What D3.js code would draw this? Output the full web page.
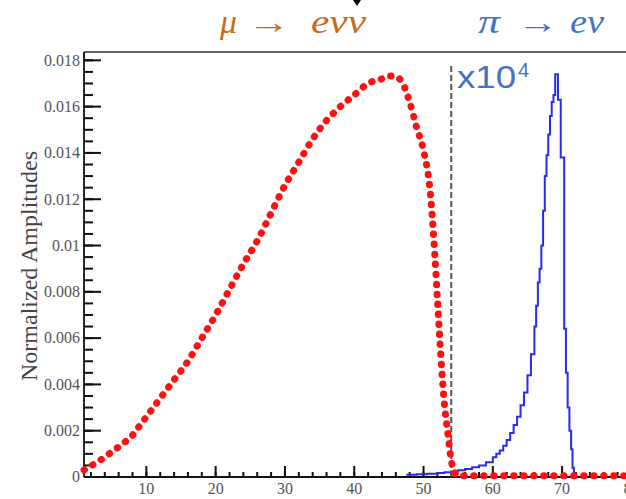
<!DOCTYPE html>
<html>
  <head>
    <meta charset="utf-8">
    <title>Michel spectrum vs pi -> e nu</title>
    <style>
      body {margin:0; background:#fff;}
      .lbl {font-family:"Liberation Serif", serif; font-size:16px; fill:#555;}
    </style>
    <script src="https://cdn.jsdelivr.net/npm/d3@7"></script>
  </head>
  <body>
    <svg id="chart"></svg>
    <script>
      // mu -> e nu nu (red dots), positron energy in MeV
      var muX = [1, 2, 3, 4, 5, 6, 7, 8, 9, 10, 12, 14, 16, 18, 20, 22, 24, 26, 28, 30,
                 32, 34, 36, 38, 40, 42, 44, 45, 46, 47, 48, 49, 50, 51, 51.5, 52, 52.5,
                 53, 53.5, 54, 54.5, 55, 60, 70, 80, 90, 100];
      var muY = [0.0003, 0.00048, 0.00066, 0.00086, 0.00108, 0.0013, 0.00153, 0.0018, 0.0022, 0.0026,
                 0.0034, 0.0042, 0.005, 0.006, 0.007, 0.0081, 0.0092, 0.0102, 0.0114, 0.0126,
                 0.0136, 0.0146, 0.0154, 0.016, 0.0165, 0.017, 0.0172, 0.01732, 0.0173, 0.017,
                 0.0162, 0.0151, 0.0141, 0.0122, 0.0102, 0.0077, 0.0052, 0.0032, 0.0019, 0.0007,
                 0.0002, 0.00005, 0.00005, 0.00005, 0.00005, 0.00005, 0.00005];

      // pi -> e nu (blue histogram, x10^4), bin edges and contents
      var piEdges = [47.5, 49, 50.5, 52, 53, 54, 55, 56, 57, 58, 59, 60, 60.5, 61, 61.5, 62,
                     62.5, 63, 63.5, 64, 64.5, 65, 65.5, 66, 66.25, 66.5, 66.75, 67, 67.25,
                     67.5, 67.75, 68, 68.25, 68.5, 68.75, 69, 69.4, 69.8, 70.3, 70.55, 70.8,
                     71.05, 71.3, 71.5, 71.7];
      var piCounts = [0.0001, 0.00012, 0.00014, 0.00017, 0.0002, 0.00024, 0.00029, 0.00035,
                      0.00042, 0.0005, 0.00064, 0.00085, 0.001, 0.00115, 0.00135, 0.0016,
                      0.0019, 0.00225, 0.0026, 0.0031, 0.00365, 0.0044, 0.0053, 0.0065,
                      0.0074, 0.0084, 0.009, 0.01, 0.0115, 0.013, 0.0139, 0.0148, 0.0156,
                      0.0162, 0.0165, 0.0174, 0.0163, 0.0138, 0.0064, 0.0045, 0.003, 0.002,
                      0.0012, 0.0004];

      var cutX = 54;          // dashed separator
      var cutTop = 0.0178;

      var xTicks = [10, 20, 30, 40, 50, 60, 70, 80];
      var xTickLabels = ["10", "20", "30", "40", "50", "60", "70", "80"];
      var yTicks = [0, 0.002, 0.004, 0.006, 0.008, 0.01, 0.012, 0.014, 0.016, 0.018];
      var yTickLabels = ["0", "0.002", "0.004", "0.006", "0.008", "0.01", "0.012", "0.014", "0.016", "0.018"];

      var svgWidth = 626, svgHeight = 499;
      var margin = {top: 52, left: 84};
      var plotWidth = 686, plotHeight = 425;

      var svg = d3.select("#chart").attr("width", svgWidth).attr("height", svgHeight);
      var g = svg.append("g").attr("transform", "translate(" + margin.left + "," + margin.top + ")");

      var x = d3.scaleLinear().domain([1, 100]).range([0, plotWidth]);
      var y = d3.scaleLinear().domain([0, 0.01836]).range([plotHeight, 0]);

      var yMinor = d3.range(0, 0.0181, 0.0005);
      var xMinor = d3.range(2, 101, 2);

      // frame
      g.append("line")
       .attr("x1", 0).attr("x2", plotWidth).attr("y1", 0).attr("y2", 0)
       .attr("stroke", "#666").attr("stroke-width", 2);
      g.append("line")
       .attr("x1", 0).attr("x2", 0).attr("y1", 0).attr("y2", plotHeight)
       .attr("stroke", "#111").attr("stroke-width", 1.8);
      g.append("line")
       .attr("x1", 0).attr("x2", plotWidth).attr("y1", plotHeight).attr("y2", plotHeight)
       .attr("stroke", "#111").attr("stroke-width", 1.8);

      // y ticks (inward), drawn as thin rects
      g.selectAll(".ymin").data(yMinor).enter().append("rect")
       .attr("x", 0).attr("width", 9).attr("height", 2)
       .attr("y", function(d) {return y(d) - 1;})
       .attr("fill", "#111");
      g.selectAll(".ymaj").data(yTicks).enter().append("rect")
       .attr("x", 0).attr("width", 17).attr("height", 2)
       .attr("y", function(d) {return y(d) - 1;})
       .attr("fill", "#111");
      g.selectAll(".ylab").data(yTicks).enter().append("text")
       .attr("class", "lbl")
       .attr("x", -4).attr("y", function(d) {return y(d);}).attr("dy", "0.33em")
       .attr("text-anchor", "end")
       .text(function(d, i) {return yTickLabels[i];});

      // x ticks (inward)
      g.selectAll(".xmin").data(xMinor).enter().append("rect")
       .attr("x", function(d) {return x(d) - 1;}).attr("width", 2)
       .attr("y", plotHeight - 5).attr("height", 5)
       .attr("fill", "#111");
      g.selectAll(".xmaj").data(xTicks).enter().append("rect")
       .attr("x", function(d) {return x(d) - 1;}).attr("width", 2)
       .attr("y", plotHeight - 11).attr("height", 11)
       .attr("fill", "#111");
      g.selectAll(".xlab").data(xTicks).enter().append("text")
       .attr("class", "lbl")
       .attr("x", function(d) {return x(d);}).attr("y", plotHeight + 17)
       .attr("text-anchor", "middle")
       .text(function(d, i) {return xTickLabels[i];});

      // y title
      svg.append("text")
         .attr("transform", "translate(37,266) rotate(-90)")
         .attr("text-anchor", "middle")
         .style("font-family", "Liberation Serif, serif")
         .style("font-size", "24px")
         .style("fill", "#444")
         .text("Normalized Amplitudes");

      // blue histogram
      var piPts = piCounts.map(function(d, i) {return [piEdges[i], d];});
      piPts.push([piEdges[piEdges.length - 1], 0]);
      g.append("path")
       .datum(piPts)
       .attr("d", d3.line().x(function(d) {return x(d[0]);}).y(function(d) {return y(d[1]);})
                          .curve(d3.curveStepAfter))
       .attr("fill", "none").attr("stroke", "#2b2bea").attr("stroke-width", 2);

      // dashed separator
      g.append("line")
       .attr("x1", x(cutX)).attr("x2", x(cutX)).attr("y1", y(0)).attr("y2", y(cutTop))
       .attr("stroke", "#555").attr("stroke-width", 2).attr("stroke-dasharray", "6 3");

      // red dotted Michel curve
      var muPts = muX.map(function(d, i) {return [d, muY[i]];});
      g.append("path")
       .datum(muPts)
       .attr("d", d3.line().x(function(d) {return x(d[0]);}).y(function(d) {return y(d[1]);})
                          .curve(d3.curveMonotoneX))
       .attr("fill", "none").attr("stroke", "#ff1010").attr("stroke-width", 7)
       .attr("stroke-linecap", "round").attr("stroke-dasharray", "0.5 9.5");

      // labels on top
      var orange = "#c8691e", blue = "#4472c4";
      var lab = [
        {t: "\u03bc", x: 220, it: true, c: orange, w: 17, fs: 34},
        {t: "\u2192", x: 247, it: false, c: orange, w: 43, fs: 32},
        {t: "e\u03bd\u03bd", x: 311, it: true, c: orange, w: 55, fs: 34},
        {t: "\u03c0", x: 478, it: true, c: blue, w: 22, fs: 34},
        {t: "\u2192", x: 517, it: false, c: blue, w: 41, fs: 32},
        {t: "e\u03bd", x: 570, it: true, c: blue, w: 34, fs: 34}
      ];
      lab.forEach(function(d) {
        svg.append("text")
           .attr("x", d.x).attr("y", 33)
           .attr("textLength", d.w).attr("lengthAdjust", "spacingAndGlyphs")
           .style("font-family", "Liberation Serif, DejaVu Serif, serif")
           .style("font-size", d.fs + "px")
           .style("font-style", d.it ? "italic" : "normal")
           .style("fill", d.c)
           .text(d.t);
      });

      // x10^4 factor
      var fac = svg.append("text")
                   .attr("x", 457).attr("y", 88)
                   .style("font-family", "Liberation Sans, Arial, sans-serif")
                   .style("font-size", "32px")
                   .style("fill", blue);
      fac.append("tspan").attr("textLength", 59).attr("lengthAdjust", "spacingAndGlyphs").text("x10");
      fac.append("tspan").attr("x", 518).attr("y", 77).style("font-size", "20px").text("4");

      // small pointer at top
      svg.append("path")
         .attr("d", "M353,0 L361,0 L357,6 Z")
         .attr("fill", "#000");
    </script>
  </body>
</html>
